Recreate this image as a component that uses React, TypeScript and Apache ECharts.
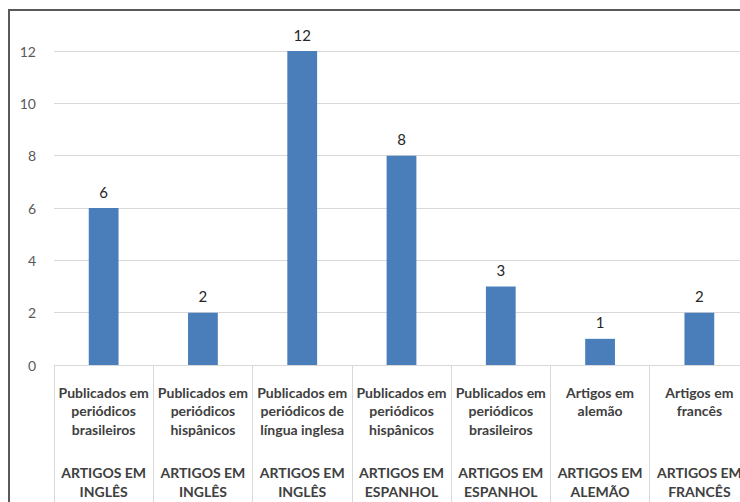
import React, { useEffect, useRef } from "react";
import * as echarts from "echarts";

const subCategories = [
  "Publicados em\nperiódicos\nbrasileiros",
  "Publicados em\nperiódicos\nhispânicos",
  "Publicados em\nperiódicos de\nlíngua inglesa",
  "Publicados em\nperiódicos\nhispânicos",
  "Publicados em\nperiódicos\nbrasileiros",
  "Artigos em\nalemão",
  "Artigos em\nfrancês",
];
const groups = [
  "ARTIGOS EM\nINGLÊS",
  "ARTIGOS EM\nINGLÊS",
  "ARTIGOS EM\nINGLÊS",
  "ARTIGOS EM\nESPANHOL",
  "ARTIGOS EM\nESPANHOL",
  "ARTIGOS EM\nALEMÃO",
  "ARTIGOS EM\nFRANCÊS",
];
const values = [6, 2, 12, 8, 3, 1, 2];

const FONT = "Lato, 'Liberation Sans', sans-serif";

export default function App() {
  const ref = useRef<HTMLDivElement>(null);
  useEffect(() => {
    if (!ref.current) return;
    const chart = echarts.init(ref.current, null, { renderer: "svg" });
    chart.setOption({
      animation: false,
      backgroundColor: "#ffffff",
      grid: { left: 54, right: 11, top: 51, bottom: 155, containLabel: false },
      graphic: [
        {
          type: "rect",
          shape: { x: 9, y: 10, width: 800, height: 600 },
          style: { fill: "none", stroke: "#595959", lineWidth: 2 },
          silent: true,
        },
      ],
      xAxis: [
        {
          type: "category",
          data: subCategories,
          position: "bottom",
          axisLine: { show: true, lineStyle: { color: "#d9d9d9", width: 1 } },
          axisTick: {
            show: true,
            interval: 0,
            alignWithLabel: false,
            length: 200,
            lineStyle: { color: "#d9d9d9", width: 1 },
          },
          axisLabel: {
            interval: 0,
            margin: 18,
            color: "#404040",
            fontFamily: FONT,
            fontWeight: "bold",
            fontSize: 14,
            lineHeight: 18.5,
          },
        },
        {
          type: "category",
          data: groups,
          position: "bottom",
          axisLine: { show: false },
          axisTick: { show: false },
          axisLabel: {
            interval: 0,
            margin: 98,
            color: "#404040",
            fontFamily: FONT,
            fontWeight: "bold",
            fontSize: 14,
            lineHeight: 19,
          },
        },
      ],
      yAxis: {
        type: "value",
        min: 0,
        max: 12,
        interval: 2,
        axisLine: { show: false },
        axisTick: { show: false },
        axisLabel: {
          margin: 18,
          color: "#595959",
          fontFamily: FONT,
          fontSize: 14,
        },
        splitLine: { lineStyle: { color: "#d9d9d9", width: 1 } },
      },
      series: [
        {
          type: "bar",
          xAxisIndex: 0,
          data: values,
          barWidth: "30%",
          itemStyle: { color: "#4a7ebb" },
          label: {
            show: true,
            position: "top",
            distance: 9,
            color: "#262626",
            fontFamily: FONT,
            fontSize: 15,
          },
        },
      ],
    });
    return () => chart.dispose();
  }, []);
  return (
    <div
      style={{
        position: "fixed",
        left: 0,
        top: 0,
        width: 740,
        height: 502,
        overflow: "hidden",
        background: "#fff",
      }}
    >
      <div ref={ref} style={{ width: 760, height: 520 }} />
    </div>
  );
}
